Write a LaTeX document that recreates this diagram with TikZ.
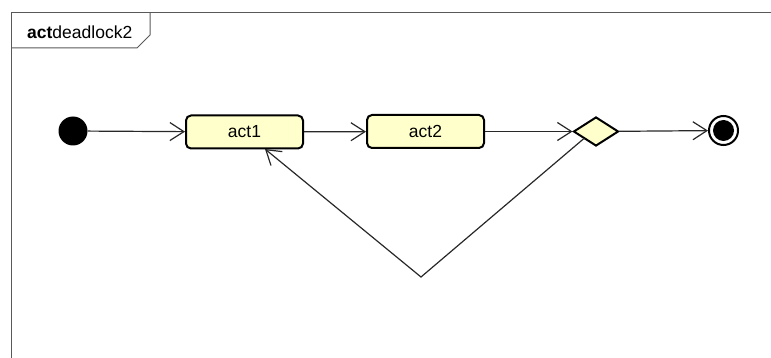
\documentclass[tikz,border=0pt]{standalone}
\usepackage{fontspec}
\setmainfont{Liberation Sans}
\usetikzlibrary{arrows.meta,shapes.geometric}
\definecolor{actfill}{RGB}{255,255,204}
\definecolor{flowgray}{RGB}{40,40,40}
\begin{document}
\begin{tikzpicture}[x=1pt,y=-1pt,
	actbox/.style={draw=black,line width=2pt,fill=actfill,rounded corners=5pt,minimum width=117pt,minimum height=33pt,inner sep=0pt,font=\fontsize{17.5}{20}\selectfont},
	decide/.style={draw=black,line width=2pt,fill=actfill,diamond,minimum width=45pt,minimum height=29pt,inner sep=0pt,aspect=1.55},
	flow/.style={draw=flowgray,line width=1.2pt,arrows={-Straight Barb[length=14pt,width=18pt,line width=1.2pt]}}]
	\useasboundingbox (0,0) rectangle (771,358);
	% frame
	\draw [gray!70!black,line width=1pt] (11,358) -- (11,13) -- (771,13);
	\draw [gray!70!black,line width=1pt] (11,48) -- (137,48) -- (150,35) -- (150,13);
	\node [anchor=base west,inner sep=0pt,font=\fontsize{17.5}{20}\selectfont] (title) at (27,39) {\textbf{act}deadlock2};
	% nodes
	\node [circle,fill=black,minimum size=29pt,inner sep=0pt] (init) at (73,131) {};
	\node [actbox] (act1) at (244.5,132) {act1};
	\node [actbox] (act2) at (425.5,131.5) {act2};
	\node [decide] (dec) at (596,131.5) {};
	\node [circle,draw=black,line width=2pt,minimum size=29pt,inner sep=0pt] (fin) at (723.5,130.5) {};
	\fill (fin) circle (10.5pt);
	\coordinate (turn) at (421,277);
	% flows
	\draw [flow] (init) -- (act1);
	\draw [flow] (act1) -- (act2);
	\draw [flow] (act2) -- (dec);
	\draw [flow] (dec) -- (fin);
	\draw [flow] (dec.south west) ++(0,-1) -- (turn) -- (265,149);
\end{tikzpicture}
\end{document}
